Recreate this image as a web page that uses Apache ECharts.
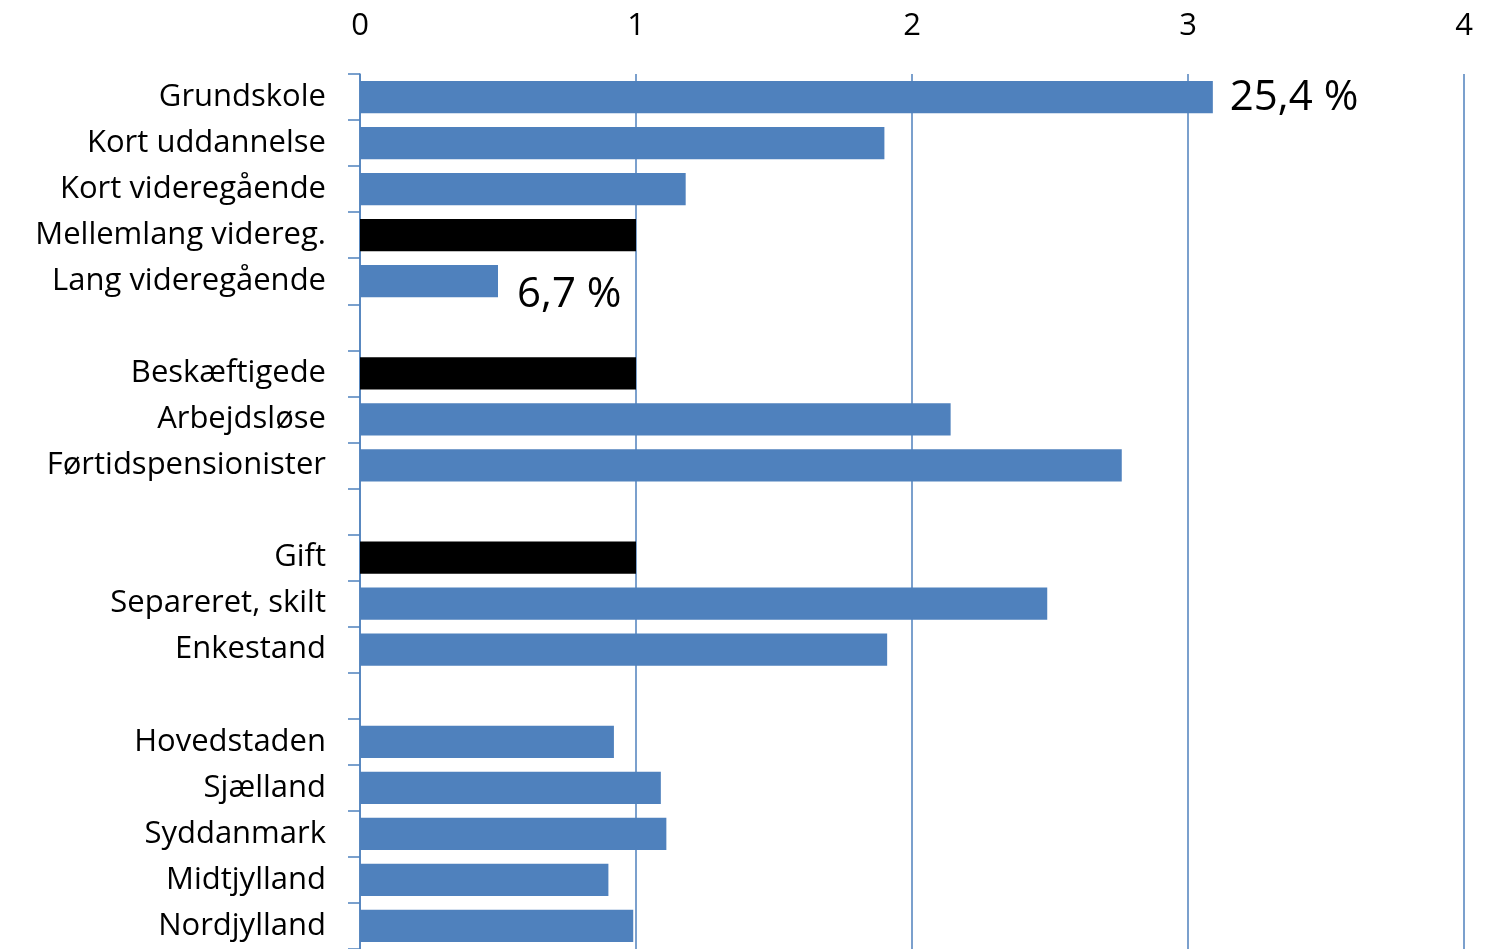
<!DOCTYPE html>
<html><head><meta charset="utf-8">
<script src="https://cdn.jsdelivr.net/npm/echarts@6/dist/echarts.min.js"></script>
<style>html,body{margin:0;padding:0;background:#fff}#c{width:1491px;height:949px}</style>
</head><body><div id="c"></div>
<script>
// kategorier, tomme strenge giver mellemrum mellem grupperne
let categories = ['Grundskole', 'Kort uddannelse', 'Kort videregående', 'Mellemlang videreg.', 'Lang videregående', '',
    'Beskæftigede', 'Arbejdsløse', 'Førtidspensionister', '',
    'Gift', 'Separeret, skilt', 'Enkestand', '',
    'Hovedstaden', 'Sjælland', 'Syddanmark', 'Midtjylland', 'Nordjylland'];
let values = [3.09, 1.90, 1.18, 1.0, 0.50, null,
    1.0, 2.14, 2.76, null,
    1.0, 2.49, 1.91, null,
    0.92, 1.09, 1.11, 0.90, 0.99];
let referenceRows = ['Mellemlang videreg.', 'Beskæftigede', 'Gift'];
let annotations = { 'Grundskole': '25,4 %', 'Lang videregående': '6,7 %' };
let xTicks = [0, 1, 2, 3, 4];

let font = 'Open Sans';
let chart = echarts.init(document.getElementById('c'));

let data = values.map((v, i) => {
    let name = categories[i];
    let item = { value: v, itemStyle: { color: referenceRows.includes(name) ? '#000000' : '#4f81bd' } };
    if (annotations[name]) {
        item.label = {
            show: true, position: 'right', formatter: annotations[name],
            fontSize: 42, color: '#000', fontFamily: font,
            offset: name === 'Grundskole' ? [12, 1] : [14, 14]
        };
    }
    return item;
});

chart.setOption({
    animation: false,
    grid: { left: 360, right: 27, top: 74, bottom: 0, containLabel: false },
    xAxis: {
        type: 'value', position: 'top', min: xTicks[0], max: xTicks[xTicks.length - 1], interval: 1,
        axisLine: { show: false }, axisTick: { show: false },
        axisLabel: { fontSize: 31, color: '#000', fontFamily: font, margin: 32 },
        splitLine: { show: true, lineStyle: { color: '#4f81bd', width: 1.5 } }
    },
    yAxis: {
        type: 'category', data: categories, inverse: true,
        axisLine: { show: true, lineStyle: { color: '#4f81bd', width: 1.5 } },
        axisTick: { show: true, length: 12, lineStyle: { color: '#4f81bd', width: 1.5 } },
        axisLabel: { fontSize: 31, color: '#000', fontFamily: font, margin: 34 }
    },
    series: [{
        type: 'bar', data: data, barCategoryGap: '30%'
    }]
});
</script></body></html>
